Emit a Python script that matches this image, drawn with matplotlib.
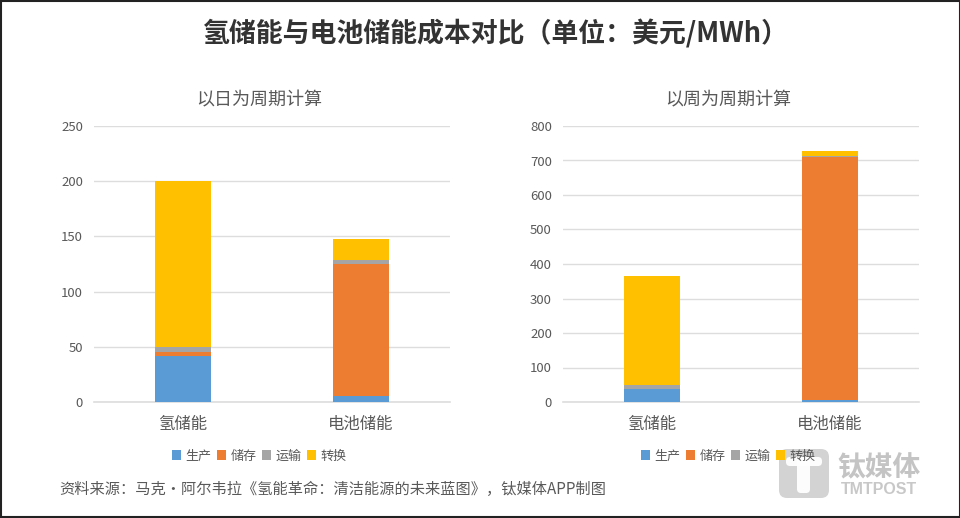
import matplotlib
matplotlib.use('Agg')
import matplotlib.pyplot as plt
from matplotlib.patches import FancyBboxPatch, Rectangle
import numpy as np

plt.rcParams['font.family'] = ['Noto Sans CJK SC', 'DejaVu Sans']

W = 960
H = 518

categories = ['氢储能', '电池储能']
series_names = ['生产', '储存', '运输', '转换']
colors = ['#5B9BD5', '#ED7D31', '#A5A5A5', '#FFC000']

daily_prod = [42, 5]
daily_store = [3.5, 120]
daily_trans = [4.5, 3.5]
daily_conv = [150, 19.5]
daily_ticks = [0, 50, 100, 150, 200, 250]

weekly_prod = [37, 6]
weekly_store = [2, 704]
weekly_trans = [11, 2]
weekly_conv = [315, 15]
weekly_ticks = [0, 100, 200, 300, 400, 500, 600, 700, 800]

TEXT = '#595959'
GRID = '#DDDDDD'


def px_axes(fig, x0, x1, y0, y1):
    return fig.add_axes([x0 / W, 1 - y1 / H, (x1 - x0) / W, (y1 - y0) / H])


def stacked(ax, data, ticks, title, title_x, legend_x):
    x = np.arange(len(categories))
    bottom = np.zeros(len(categories))
    handles = []
    for vals, name, c in zip(data, series_names, colors):
        b = ax.bar(x, vals, 0.315, bottom=bottom, color=c, label=name, zorder=3)
        handles.append(b)
        bottom = bottom + np.array(vals)
    ax.set_xlim(-0.5, 1.5)
    ax.set_ylim(0, ticks[-1])
    ax.set_yticks(ticks)
    ax.set_xticks(x)
    ax.set_xticklabels(categories, fontsize=11.8, color=TEXT)
    ax.tick_params(axis='x', length=0, pad=10)
    ax.tick_params(axis='y', length=0, pad=8, labelsize=9.5, labelcolor=TEXT)
    ax.grid(axis='y', color=GRID, linewidth=1, zorder=0)
    for s in ['top', 'right', 'left']:
        ax.spines[s].set_visible(False)
    ax.spines['bottom'].set_color(GRID)
    ax.spines['bottom'].set_linewidth(1.2)
    fig.text(title_x / W, 1 - 100 / H, title, fontsize=13, color=TEXT, ha='center', va='center')
    fig.legend(handles=handles, loc='center', bbox_to_anchor=(legend_x / W, 1 - 456 / H), ncol=4,
               frameon=False, fontsize=9.4, handlelength=0.7, handleheight=0.7,
               handletextpad=0.35, columnspacing=0.4, labelcolor=TEXT, borderpad=0)


fig = plt.figure(figsize=(W / 100, H / 100), dpi=100)

ax1 = px_axes(fig, 94, 450, 126, 402)
stacked(ax1, [daily_prod, daily_store, daily_trans, daily_conv], daily_ticks, '以日为周期计算', 259, 259)

ax2 = px_axes(fig, 563, 919, 126, 402)
stacked(ax2, [weekly_prod, weekly_store, weekly_trans, weekly_conv], weekly_ticks, '以周为周期计算', 728, 728)

fig.text(495.5 / W, 1 - 34 / H, '氢储能与电池储能成本对比（单位：美元/MWh）', fontsize=19.4, fontweight='bold',
         color='#333333', ha='center', va='center')
fig.text(59 / W, 1 - 489 / H, '资料来源：马克·阿尔韦拉《氢能革命：清洁能源的未来蓝图》，钛媒体APP制图',
         fontsize=10.95, color=TEXT, ha='left', va='center')

# watermark
bg = fig.add_axes([0, 0, 1, 1], zorder=5)
bg.set_xlim(0, W)
bg.set_ylim(H, 0)
bg.axis('off')
bg.patch.set_alpha(0)
bg.add_patch(FancyBboxPatch((779, 449), 50, 49, boxstyle='round,pad=0,rounding_size=8',
                            fc='#C8C8C8', ec='none', alpha=0.8))
bg.add_patch(FancyBboxPatch((786, 457), 36, 9, boxstyle='round,pad=0,rounding_size=4',
                            fc='white', ec='none', alpha=0.95))
bg.add_patch(FancyBboxPatch((797, 457), 13, 36, boxstyle='round,pad=0,rounding_size=4',
                            fc='white', ec='none', alpha=0.95))
bg.text(879, 468, '钛媒体', fontsize=20, fontweight='bold', color='#C4C4C4', ha='center', va='center')
bg.text(879, 490, 'TMTPOST', fontsize=11.5, fontweight='bold', color='#C8C8C8', ha='center', va='center',
        family=['Liberation Sans', 'DejaVu Sans'])

# dark frame around the screenshot
bg.add_patch(Rectangle((0.5, 0.5), W - 1, H - 2, fc='none', ec='#222222', lw=1.5))

fig.savefig('out.png', dpi=100)
